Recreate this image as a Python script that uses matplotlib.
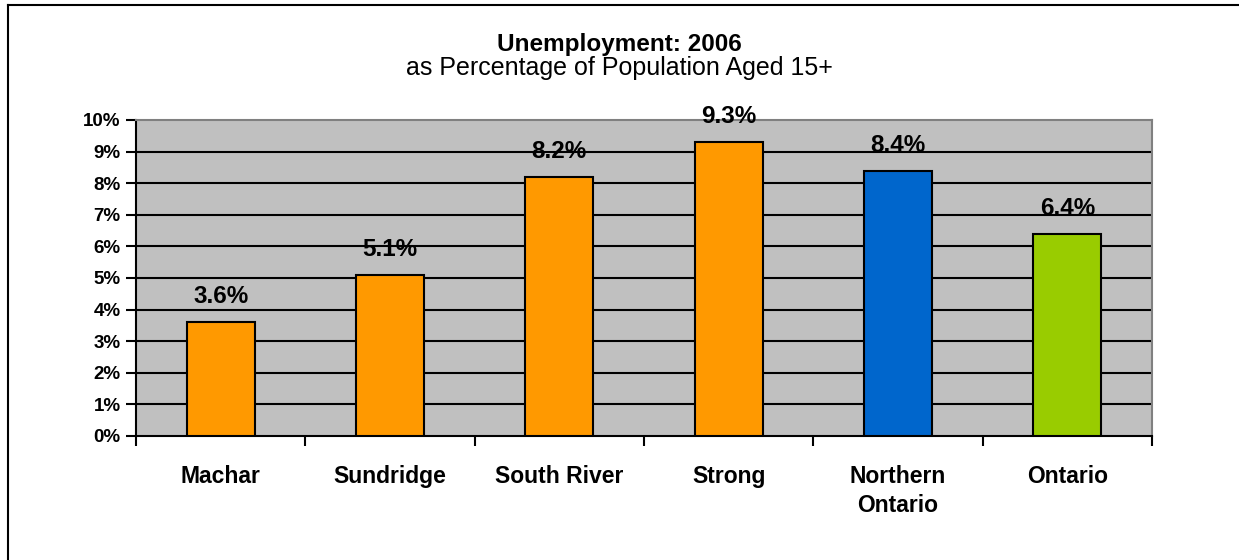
import matplotlib.pyplot as plt
from matplotlib.lines import Line2D

plt.rcParams['font.family'] = ['Liberation Sans', 'DejaVu Sans']

# data
regions = ["Machar", "Sundridge", "South River", "Strong", "Northern\nOntario", "Ontario"]
unemployment = [3.6, 5.1, 8.2, 9.3, 8.4, 6.4]
labels = ["3.6%", "5.1%", "8.2%", "9.3%", "8.4%", "6.4%"]
colors = ["#FF9900", "#FF9900", "#FF9900", "#FF9900", "#0066CC", "#99CC00"]
yticks = [0, 1, 2, 3, 4, 5, 6, 7, 8, 9, 10]

W, H = 1239, 560
fig = plt.figure(figsize=(W / 100, H / 100), dpi=100)
ax = fig.add_axes([136 / W, 1 - 436 / H, (1152 - 136) / W, (436 - 120) / H])
ax.set_facecolor("#C0C0C0")

x = list(range(len(regions)))
bars = ax.bar(x, unemployment, width=0.4, color=colors, edgecolor="black", linewidth=1.5, zorder=3)

for xi, v, lab in zip(x, unemployment, labels):
    ax.annotate(lab, (xi, v), xytext=(0, 10), textcoords="offset points",
                ha="center", va="bottom", fontsize=17.5, fontweight="bold", zorder=4)

ax.set_xlim(-0.5, len(regions) - 0.5)
ax.set_ylim(0, 10)
ax.set_yticks(yticks)
ax.set_yticklabels([f"{t}%" for t in yticks], fontsize=13.5, fontweight="bold")
for t in yticks[1:-1]:
    ax.axhline(t, color="black", linewidth=1.5, zorder=1)

# category boundary ticks, labels centred under bars
ax.set_xticks([i - 0.5 for i in range(len(regions) + 1)])
ax.set_xticklabels([])
ax.set_xticks(x, minor=True)
ax.set_xticklabels(regions, minor=True, fontsize=16.5, fontweight="bold", linespacing=1.35)
ax.tick_params(axis="x", which="minor", length=0, pad=21)
ax.tick_params(axis="x", which="major", length=7, width=1.5, direction="out")
ax.tick_params(axis="y", length=7, width=1.5, direction="out", pad=4)

for side in ["left", "bottom"]:
    ax.spines[side].set_color("black")
    ax.spines[side].set_linewidth(1.5)
for side in ["top", "right"]:
    ax.spines[side].set_color("#808080")
    ax.spines[side].set_linewidth(1.5)

fig.text(0.5, 1 - 45 / H, "Unemployment: 2006", ha="center", va="center",
         fontsize=17.5, fontweight="bold")
fig.text(0.5, 1 - 68 / H, "as Percentage of Population Aged 15+", ha="center", va="center",
         fontsize=18)

# outer chart border (cropped on right and bottom)
fig.add_artist(Line2D([8 / W, 8 / W], [0, 1 - 5 / H], color="black", linewidth=1.5,
                      transform=fig.transFigure))
fig.add_artist(Line2D([8 / W, 1], [1 - 5 / H, 1 - 5 / H], color="black", linewidth=1.5,
                      transform=fig.transFigure))

fig.savefig("out.png", dpi=100)
